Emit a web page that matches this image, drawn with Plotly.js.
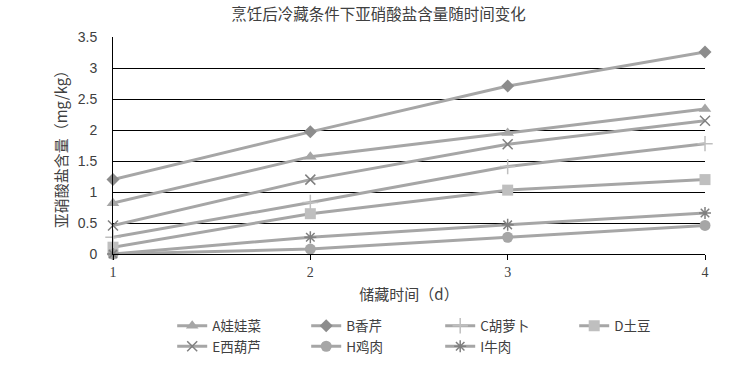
<!DOCTYPE html>
<html>
<head>
<meta charset="utf-8">
<script src="https://cdn.plot.ly/plotly-3.0.1.min.js"></script>
<style>html,body{margin:0;padding:0;background:#fff;}#chart{width:735px;height:374px;}</style>
</head>
<body>
<div id="chart"></div>
<script>
const days = [1, 2, 3, 4];
const seriesNames = ["A娃娃菜", "B香芹", "C胡萝卜", "D土豆", "E西葫芦", "H鸡肉", "I牛肉"];
const valuesA = [0.82, 1.57, 1.95, 2.34];
const valuesB = [1.20, 1.97, 2.71, 3.26];
const valuesC = [0.27, 0.83, 1.41, 1.78];
const valuesD = [0.11, 0.65, 1.03, 1.20];
const valuesE = [0.46, 1.20, 1.77, 2.15];
const valuesH = [0.00, 0.08, 0.27, 0.46];
const valuesI = [0.00, 0.27, 0.47, 0.66];
const xTickLabels = ["1", "2", "3", "4"];
const yTickVals = [0, 0.5, 1, 1.5, 2, 2.5, 3, 3.5];
const yTickLabels = ["0", "0.5", "1", "1.5", "2", "2.5", "3", "3.5"];

const allValues = [valuesA, valuesB, valuesC, valuesD, valuesE, valuesH, valuesI];
const markerStyles = [
  {symbol: "triangle-up", color: "#a6a6a6", size: 11},
  {symbol: "diamond", color: "#8c8c8c", size: 10},
  {symbol: "cross-thin", color: "#bfbfbf", size: 11, line: {color: "#bfbfbf", width: 1.5}},
  {symbol: "square", color: "#bfbfbf", size: 11},
  {symbol: "x-thin", color: "#808080", size: 10, line: {color: "#808080", width: 1.5}},
  {symbol: "circle", color: "#a6a6a6", size: 11},
  {symbol: "asterisk", color: "#808080", size: 10, line: {color: "#808080", width: 1.5}}
];

const traces = allValues.map((vals, i) => {
  const m = markerStyles[i];
  const marker = {symbol: m.symbol, color: m.color, size: m.size};
  if (m.line) marker.line = m.line; else marker.line = {width: 0};
  return {
    x: days, y: vals, name: seriesNames[i], type: "scatter", mode: "lines+markers",
    line: {color: "#a6a6a6", width: 3},
    marker: marker, cliponaxis: false
  };
});

const layout = {
  width: 735, height: 374,
  paper_bgcolor: "#ffffff", plot_bgcolor: "#ffffff",
  margin: {l: 113, r: 30, t: 37, b: 116},
  font: {family: "Noto Sans CJK SC, sans-serif", color: "#404040"},
  title: {text: "烹饪后冷藏条件下亚硝酸盐含量随时间变化", x: 0.515, xanchor: "center", y: 0.96, yanchor: "middle",
          font: {family: "Noto Sans CJK SC", size: 15.5, color: "#404040"}},
  xaxis: {
    range: [1, 4], tickvals: days, ticktext: xTickLabels,
    showgrid: false, zeroline: false, showline: true, linecolor: "#000", linewidth: 1,
    ticks: "outside", ticklen: 5, tickcolor: "#000",
    tickfont: {family: "Liberation Serif", size: 14, color: "#404040"},
    title: {text: "储藏时间（d）", font: {family: "Noto Sans CJK SC", size: 15, color: "#404040"}, standoff: 10}
  },
  yaxis: {
    range: [0, 3.5], tickvals: yTickVals, ticktext: yTickLabels,
    showgrid: true, gridcolor: "#000", gridwidth: 1,
    zeroline: false, showline: true, linecolor: "#000", linewidth: 1,
    ticks: "", ticklabelstandoff: 12,
    tickfont: {family: "Liberation Sans", size: 14, color: "#404040"},
    title: {text: "亚硝酸盐含量（mg/kg）", font: {family: "Noto Sans CJK SC", size: 15, color: "#404040"}, standoff: 6}
  },
  showlegend: true,
  legend: {
    orientation: "h", x: 0.1, xanchor: "left", y: -0.26, yanchor: "top",
    entrywidth: 89, entrywidthmode: "pixels",
    font: {family: "Noto Sans CJK SC", size: 13.5, color: "#404040"},
    bgcolor: "rgba(0,0,0,0)"
  }
};

Plotly.newPlot("chart", traces, layout, {displayModeBar: false, staticPlot: true});
</script>
</body>
</html>
